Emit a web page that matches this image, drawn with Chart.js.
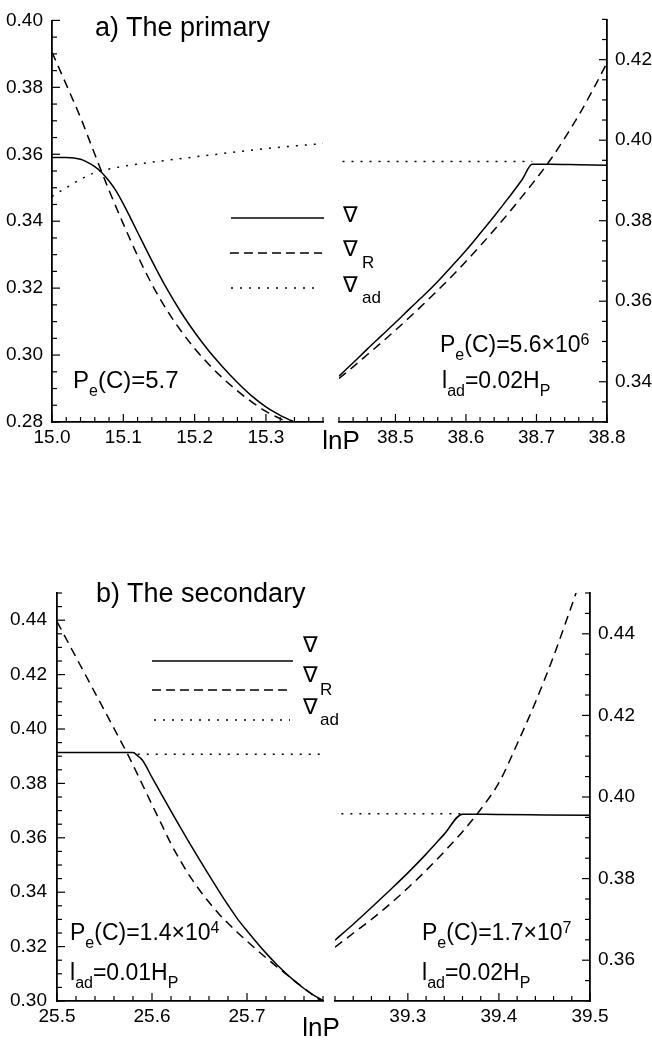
<!DOCTYPE html>
<html><head><meta charset="utf-8">
<script src="https://cdn.jsdelivr.net/npm/chart.js@4.4.1/dist/chart.umd.min.js"></script>
<style>
html,body{margin:0;padding:0;background:#fff;}
#wrap{position:relative;width:652px;height:1040px;overflow:hidden;background:#fff;}
canvas{position:absolute;}
.t{position:absolute;font-family:'Liberation Sans',Arial,sans-serif;line-height:1;white-space:nowrap;color:#000;}
</style></head><body>
<div id="wrap">
<canvas id="cAL" width="330" height="470" style="left:0;top:0"></canvas>
<canvas id="cAR" width="322" height="470" style="left:330px;top:0"></canvas>
<canvas id="cBL" width="330" height="560" style="left:0;top:480px"></canvas>
<canvas id="cBR" width="322" height="560" style="left:330px;top:480px"></canvas>
<svg width="652" height="1040" style="position:absolute;left:0;top:0" xmlns="http://www.w3.org/2000/svg">
<g stroke="#000" stroke-width="1.6" fill="none">
<line x1="231" y1="218" x2="324" y2="218"/>
<line x1="230" y1="253" x2="322" y2="253" stroke-dasharray="9 5"/>
<line x1="231" y1="288" x2="320" y2="288" stroke-dasharray="2 7"/>
<line x1="152" y1="661" x2="293" y2="661"/>
<line x1="152" y1="690" x2="290" y2="690" stroke-dasharray="9 5"/>
<line x1="154" y1="720" x2="290" y2="720" stroke-dasharray="2 7"/>
</g>
</svg>
</div>
<script>
// ---------- a) The primary, left panel ----------
const aL_x_grad   = [15.00,15.02,15.04,15.05,15.06,15.07,15.08,15.09,15.10,15.11,15.12,15.14,15.16,15.18,15.20,15.22,15.24,15.26,15.28,15.30,15.32,15.34,15.36];
const aL_grad     = [0.3590,0.3590,0.3585,0.3576,0.3563,0.3545,0.3520,0.3490,0.3452,0.3410,0.3367,0.3282,0.3202,0.3131,0.3068,0.3012,0.2963,0.2918,0.2878,0.2845,0.2820,0.2800,0.2782];
const aL_x_gradR  = [15.00,15.02,15.04,15.06,15.08,15.10,15.12,15.14,15.16,15.18,15.20,15.22,15.24,15.26,15.28,15.30,15.32,15.34,15.36];
const aL_gradR    = [0.3905,0.3808,0.3710,0.3600,0.3492,0.3392,0.3297,0.3212,0.3138,0.3075,0.3020,0.2972,0.2930,0.2893,0.2860,0.2832,0.2810,0.2793,0.2778];
const aL_x_gradAd = [15.00,15.02,15.04,15.06,15.08,15.10,15.15,15.20,15.25,15.30,15.38];
const aL_gradAd   = [0.3474,0.3500,0.3525,0.3545,0.3556,0.3564,0.3579,0.3592,0.3605,0.3617,0.3632];
const aL_xRange = [15.0, 15.38], aL_yRange = [0.28, 0.40];
const aL_xTicks = [15.0, 15.1, 15.2, 15.3];
const aL_yTicks = [0.28, 0.30, 0.32, 0.34, 0.36, 0.38, 0.40];

// ---------- a) The primary, right panel ----------
const aR_x_grad   = [38.42,38.44,38.46,38.48,38.50,38.52,38.54,38.56,38.58,38.60,38.62,38.64,38.66,38.68,38.694,38.72,38.76,38.80];
const aR_grad     = [0.3414,0.3447,0.3481,0.3514,0.3547,0.3581,0.3614,0.3649,0.3687,0.3726,0.3768,0.3811,0.3856,0.3903,0.3940,0.3940,0.3939,0.3938];
const aR_x_gradR  = [38.42,38.44,38.46,38.48,38.50,38.52,38.54,38.56,38.58,38.60,38.62,38.64,38.66,38.68,38.70,38.72,38.74,38.76,38.78,38.80];
const aR_gradR    = [0.3408,0.3437,0.3467,0.3497,0.3528,0.3560,0.3593,0.3627,0.3662,0.3699,0.3737,0.3777,0.3818,0.3861,0.3905,0.3952,0.4005,0.4062,0.4125,0.4192];
const aR_x_gradAd = [38.425, 38.694];
const aR_gradAd   = [0.3947, 0.3947];
const aR_xRange = [38.42, 38.8], aR_yRange = [0.33, 0.43];
const aR_xTicks = [38.5, 38.6, 38.7, 38.8];
const aR_yTicks = [0.34, 0.36, 0.38, 0.40, 0.42];

// ---------- b) The secondary, left panel ----------
const bL_x_grad   = [25.50,25.58,25.585,25.59,25.60,25.61,25.62,25.63,25.64,25.65,25.66,25.67,25.68,25.69,25.70,25.71,25.72,25.73,25.74,25.75,25.76,25.77,25.78];
const bL_grad     = [0.3914,0.3914,0.3901,0.3885,0.3822,0.3760,0.3698,0.3637,0.3578,0.3520,0.3463,0.3407,0.3353,0.3302,0.3258,0.3216,0.3176,0.3139,0.3105,0.3074,0.3046,0.3022,0.3002];
const bL_x_gradR  = [25.50,25.52,25.54,25.56,25.575,25.59,25.60,25.61,25.62,25.63,25.64,25.65,25.66,25.67,25.68,25.69,25.70,25.71,25.72,25.73,25.74,25.75,25.76,25.77,25.78];
const bL_gradR    = [0.4395,0.4264,0.4133,0.4002,0.3903,0.3795,0.3722,0.3650,0.3578,0.3515,0.3458,0.3408,0.3363,0.3322,0.3286,0.3252,0.3220,0.3189,0.3159,0.3130,0.3102,0.3074,0.3047,0.3020,0.2995];
const bL_x_gradAd = [25.585, 25.78];
const bL_gradAd   = [0.3907, 0.3907];
const bL_xRange = [25.5, 25.78], bL_yRange = [0.30, 0.45];
const bL_xTicks = [25.5, 25.6, 25.7];
const bL_yTicks = [0.30, 0.32, 0.34, 0.36, 0.38, 0.40, 0.42, 0.44];

// ---------- b) The secondary, right panel ----------
const bR_x_grad   = [39.22,39.24,39.26,39.28,39.30,39.32,39.34,39.36,39.40,39.45,39.50];
const bR_grad     = [0.3649,0.3688,0.3729,0.3771,0.3814,0.3860,0.3909,0.3958,0.3957,0.3956,0.3955];
const bR_x_gradR  = [39.22,39.24,39.26,39.28,39.30,39.32,39.34,39.36,39.38,39.40,39.42,39.44,39.46,39.48,39.49];
const bR_gradR    = [0.3632,0.3666,0.3700,0.3737,0.3777,0.3820,0.3866,0.3915,0.3970,0.4035,0.4130,0.4232,0.4345,0.4470,0.4535];
const bR_x_gradAd = [39.227, 39.36];
const bR_gradAd   = [0.3959, 0.3959];
const bR_xRange = [39.22, 39.5], bR_yRange = [0.35, 0.45];
const bR_xTicks = [39.3, 39.4, 39.5];
const bR_yTicks = [0.36, 0.38, 0.40, 0.42, 0.44];

const X_MINOR = 0.02, Y_MINOR = 0.005;
const FONT = "'Liberation Sans', Arial, sans-serif";

function steps(a, b, s) { const out = []; const n = Math.round((b - a) / s); for (let i = 0; i <= n; i++) out.push(+(a + i * s).toFixed(4)); return out; }
function pts(xs, ys) { return xs.map((x, i) => ({x: x, y: ys[i]})); }

const inTicks = {
  id: 'inTicks',
  afterDraw(chart, args, o) {
    const ctx = chart.ctx, a = chart.chartArea, xs = chart.scales.x, ys = chart.scales.y;
    ctx.save(); ctx.strokeStyle = '#000'; ctx.lineWidth = 1.2;
    const isMaj = (v, list) => list.some(t => Math.abs(t - v) < 1e-6);
    steps(xs.min, xs.max, X_MINOR).forEach(v => {
      const px = xs.getPixelForValue(v), len = isMaj(v, o.xMajor) ? 8 : 5;
      ctx.beginPath(); ctx.moveTo(px, a.bottom); ctx.lineTo(px, a.bottom - len); ctx.stroke();
    });
    steps(ys.min, ys.max, Y_MINOR).forEach(v => {
      const py = ys.getPixelForValue(v), len = isMaj(v, o.yMajor) ? 8 : 5;
      ctx.beginPath();
      if (o.side === 'left') { ctx.moveTo(a.left, py); ctx.lineTo(a.left + len, py); }
      else { ctx.moveTo(a.right, py); ctx.lineTo(a.right - len, py); }
      ctx.stroke();
    });
    ctx.restore();
  }
};

function panel(id, p) {
  const line = (xs, ys, dash) => ({data: pts(xs, ys), showLine: true, borderColor: '#000', borderWidth: 1.5,
    borderDash: dash, pointRadius: 0, fill: false, cubicInterpolationMode: 'monotone'});
  new Chart(document.getElementById(id), {
    type: 'scatter',
    data: {datasets: [
      line(p.s[4], p.s[5], [2, 7]),
      line(p.s[2], p.s[3], [9, 6]),
      line(p.s[0], p.s[1], [])
    ]},
    plugins: [inTicks],
    options: {
      responsive: false, animation: false, devicePixelRatio: 1,
      layout: {padding: p.pad},
      plugins: {legend: {display: false}, tooltip: {enabled: false},
        inTicks: {xMajor: p.xTicks, yMajor: p.yTicks, side: p.ySide}},
      scales: {
        x: {type: 'linear', position: 'bottom', min: p.xr[0], max: p.xr[1], bounds: 'data',
          grid: {display: false, drawTicks: false}, border: {display: true, color: '#000', width: 1.8},
          ticks: {autoSkip: false, maxRotation: 0, padding: 4, color: '#000', font: {family: FONT, size: 19},
            callback: v => (+v).toFixed(1)},
          afterBuildTicks: s => { s.ticks = p.xTicks.map(v => ({value: v})); },
          afterFit: s => { s.height = p.xH; }},
        y: {type: 'linear', position: p.ySide, min: p.yr[0], max: p.yr[1], bounds: 'data',
          grid: {display: false, drawTicks: false}, border: {display: true, color: '#000', width: 1.8},
          ticks: {autoSkip: false, padding: p.yPad, color: '#000', font: {family: FONT, size: 19},
            callback: v => (+v).toFixed(2)},
          afterBuildTicks: s => { s.ticks = p.yTicks.map(v => ({value: v})); },
          afterFit: s => { s.width = p.yW; }}
      }
    }
  });
}

panel('cAL', {s: [aL_x_grad, aL_grad, aL_x_gradR, aL_gradR, aL_x_gradAd, aL_gradAd], xr: aL_xRange, yr: aL_yRange,
  xTicks: aL_xTicks, yTicks: aL_yTicks, ySide: 'left', pad: {top: 14, left: 0, right: 7, bottom: 0}, yW: 52, xH: 48, yPad: 9});
panel('cAR', {s: [aR_x_grad, aR_grad, aR_x_gradR, aR_gradR, aR_x_gradAd, aR_gradAd], xr: aR_xRange, yr: aR_yRange,
  xTicks: aR_xTicks, yTicks: aR_yTicks, ySide: 'right', pad: {top: 14, left: 9, right: 0, bottom: 0}, yW: 45, xH: 48, yPad: 8});
panel('cBL', {s: [bL_x_grad, bL_grad, bL_x_gradR, bL_gradR, bL_x_gradAd, bL_gradAd], xr: bL_xRange, yr: bL_yRange,
  xTicks: bL_xTicks, yTicks: bL_yTicks, ySide: 'left', pad: {top: 113, left: 0, right: 7, bottom: 0}, yW: 57, xH: 39, yPad: 10});
panel('cBR', {s: [bR_x_grad, bR_grad, bR_x_gradR, bR_gradR, bR_x_gradAd, bR_gradAd], xr: bR_xRange, yr: bR_yRange,
  xTicks: bR_xTicks, yTicks: bR_yTicks, ySide: 'right', pad: {top: 113, left: 5, right: 0, bottom: 0}, yW: 62, xH: 39, yPad: 8});

// ---------- text ----------
const wrap = document.getElementById('wrap');
function txt(x, base, size, html, opt) {
  opt = opt || {};
  const d = document.createElement('div');
  d.className = 't';
  d.style.left = x + 'px';
  d.style.top = (base - 0.8465 * size) + 'px';
  d.style.fontSize = size + 'px';
  if (opt.family) d.style.fontFamily = opt.family;
  if (opt.center) d.style.transform = 'translateX(-50%)';
  d.innerHTML = html;
  wrap.appendChild(d);
}
const sb = (s) => '<span style="font-size:16px;position:relative;top:8px">' + s + '</span>';
const sp = (s) => '<span style="font-size:16px;position:relative;top:-7px">' + s + '</span>';

txt(95, 37, 27, 'a) The primary');
txt(96, 603, 27, 'b) The secondary');
txt(341, 449, 26, 'lnP', {center: true});
txt(321, 1036, 26, 'lnP', {center: true});

txt(73, 388, 24, 'P' + sb('e') + '(C)=5.7');
txt(440, 352, 23, 'P' + sb('e') + '(C)=5.6\u00d710' + sp('6'));
txt(442, 388, 23, 'l' + sb('ad') + '=0.02H' + sb('P'));
txt(70, 940, 23, 'P' + sb('e') + '(C)=1.4\u00d710' + sp('4'));
txt(70, 980, 23, 'l' + sb('ad') + '=0.01H' + sb('P'));
txt(422, 940, 23, 'P' + sb('e') + '(C)=1.7\u00d710' + sp('7'));
txt(422, 980, 23, 'l' + sb('ad') + '=0.02H' + sb('P'));

const NAB = "'DejaVu Sans', sans-serif";
txt(343, 223, 22, '\u2207', {family: NAB});
txt(343, 257, 22, '\u2207', {family: NAB});
txt(362, 268, 17, 'R');
txt(343, 293, 22, '\u2207', {family: NAB});
txt(362, 303, 17, 'ad');
txt(303, 653, 22, '\u2207', {family: NAB});
txt(303, 683, 22, '\u2207', {family: NAB});
txt(320, 695, 17, 'R');
txt(303, 715, 22, '\u2207', {family: NAB});
txt(320, 725, 17, 'ad');
</script>
</body></html>
